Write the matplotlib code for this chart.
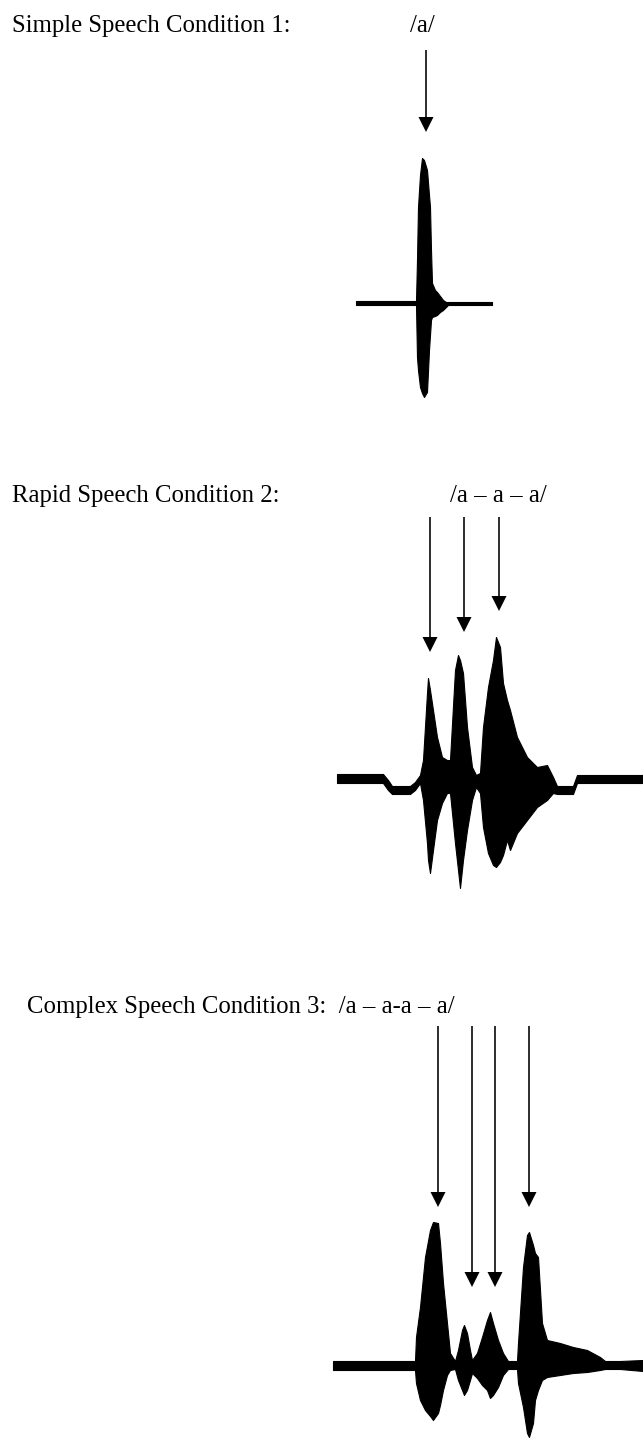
import matplotlib
matplotlib.use("Agg")
import matplotlib.pyplot as plt

# ---------------- data (pixel coordinates of the original figure) ----------------
labels = ["Simple Speech Condition 1:", "Rapid Speech Condition 2:",
          "Complex Speech Condition 3:  /a \u2013 a-a \u2013 a/"]
label_x = [12, 12, 27]
label_y = [32, 502, 1013]
syll_text = ["/a/", "/a \u2013 a \u2013 a/"]
syll_x = [410, 450]
syll_y = [32, 502]

# arrows: x position, start (top) and tip (bottom)
arrow1_x = [426]
arrow1_top = [50]
arrow1_tip = [132]
arrow2_x = [430, 464, 499]
arrow2_top = [517, 517, 517]
arrow2_tip = [652, 632, 611]
arrow3_x = [438, 472, 495, 529]
arrow3_top = [1026, 1026, 1026, 1026]
arrow3_tip = [1207, 1287, 1287, 1207]

# waveform envelopes (x, upper edge, lower edge)
wave1_x = [356, 416, 417, 418, 420, 422, 424, 427, 429, 430, 431, 432, 435, 437,
           440, 443, 446, 448, 492]
wave1_top = [301, 301, 260, 207, 175, 158, 160, 170, 195, 207, 250, 283, 290, 292,
             296, 300, 302, 302, 302]
wave1_bot = [305, 305, 357, 370, 387, 393, 397, 392, 350, 335, 320, 317, 316, 315,
             312, 310, 307, 305, 305]

wave2_x = [337, 383, 388, 392, 410, 415, 420, 423, 427, 428, 430, 433, 437, 442, 447,
           450, 455, 458, 460, 463, 467, 472, 476, 480, 483, 488, 493, 496, 500, 503,
           507, 510, 517, 527, 537, 547, 553, 557, 573, 577, 643]
wave2_top = [774, 774, 780, 786, 786, 782, 775, 760, 693, 678, 690, 710, 737, 757, 760,
             760, 670, 655, 660, 673, 727, 767, 775, 773, 727, 687, 660, 637, 647, 683,
             700, 710, 737, 757, 767, 765, 777, 786, 786, 775, 775]
wave2_bot = [783, 783, 790, 794, 794, 790, 783, 800, 843, 860, 873, 850, 820, 803, 793,
             793, 843, 870, 888, 860, 830, 800, 787, 793, 827, 853, 865, 867, 862, 855,
             840, 850, 833, 820, 807, 800, 793, 794, 794, 783, 783]

wave3_x = [333, 415, 416, 420, 425, 430, 433, 438, 440, 443, 447, 450, 455, 458, 462,
           464, 467, 470, 472, 477, 482, 487, 490, 493, 498, 503, 508, 517, 518, 523,
           527, 529, 533, 535, 538, 542, 547, 560, 573, 587, 600, 605, 620, 643]
wave3_top = [1361, 1361, 1337, 1307, 1257, 1230, 1222, 1223, 1243, 1283, 1323, 1353,
             1361, 1350, 1330, 1325, 1333, 1350, 1360, 1353, 1337, 1320, 1312, 1323,
             1340, 1353, 1361, 1361, 1343, 1267, 1235, 1232, 1245, 1253, 1257, 1323,
             1340, 1343, 1347, 1350, 1357, 1361, 1361, 1360]
wave3_bot = [1370, 1370, 1383, 1400, 1410, 1416, 1420, 1413, 1405, 1390, 1375, 1370,
             1369, 1380, 1390, 1395, 1390, 1380, 1373, 1378, 1385, 1390, 1398, 1395,
             1387, 1375, 1369, 1369, 1383, 1407, 1433, 1437, 1423, 1400, 1390, 1380,
             1377, 1375, 1373, 1372, 1370, 1369, 1369, 1371]

# ---------------- drawing ----------------
W, H = 643, 1447
fig = plt.figure(figsize=(W / 100, H / 100), dpi=100)
ax = fig.add_axes([0, 0, 1, 1])
ax.set_xlim(0, W)
ax.set_ylim(H, 0)
ax.axis("off")

font = dict(family=["Liberation Serif", "DejaVu Serif"], fontsize=17.8, color="black",
            va="baseline", ha="left")
for t, x, y in zip(labels, label_x, label_y):
    ax.text(x, y, t, **font)
for t, x, y in zip(syll_text, syll_x, syll_y):
    ax.text(x, y, t, **font)

def draw_arrows(xs, tops, tips):
    for x, t, b in zip(xs, tops, tips):
        ax.arrow(x, t, 0, b - t, width=1.6, head_width=15, head_length=15,
                 length_includes_head=True, color="black", lw=0)

draw_arrows(arrow1_x, arrow1_top, arrow1_tip)
draw_arrows(arrow2_x, arrow2_top, arrow2_tip)
draw_arrows(arrow3_x, arrow3_top, arrow3_tip)

for xs, tp, bt in [(wave1_x, wave1_top, wave1_bot),
                   (wave2_x, wave2_top, wave2_bot),
                   (wave3_x, wave3_top, wave3_bot)]:
    ax.fill_between(xs, tp, bt, color="black", lw=0.8, edgecolor="black")

fig.savefig("out.png", dpi=100, facecolor="white")
